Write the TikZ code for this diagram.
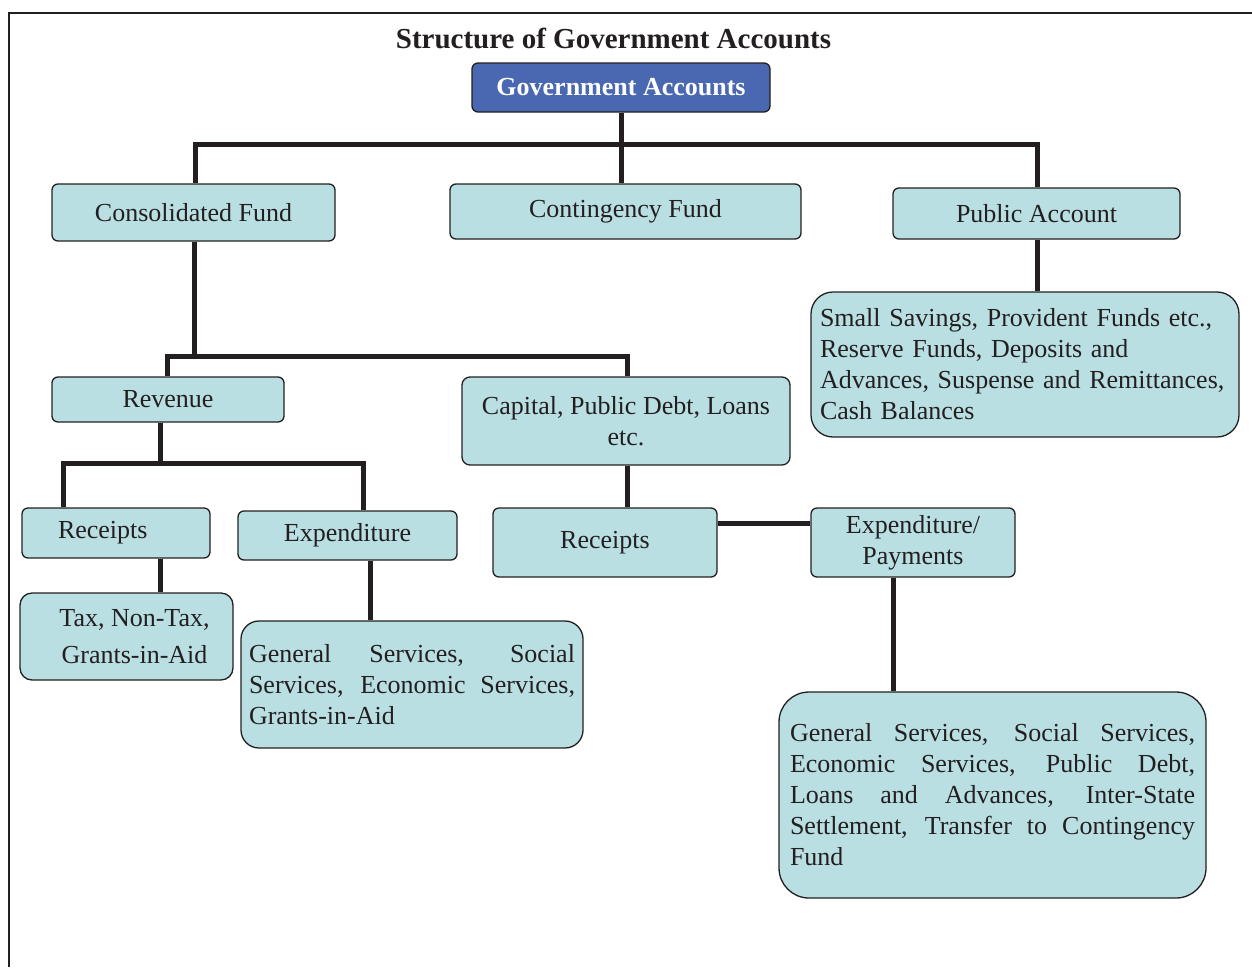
\documentclass[tikz,border=0pt]{standalone}
\usepackage{fontspec}
\setmainfont{Liberation Serif}
\definecolor{boxfill}{HTML}{B9DFE2}
\definecolor{govblue}{HTML}{4A67B1}
\definecolor{linec}{HTML}{231F20}
\begin{document}
\begin{tikzpicture}[x=1pt,y=-1pt,
  box/.style={draw=linec, line width=1.3pt, fill=boxfill, rounded corners=6pt, inner sep=0pt,
    font=\fontsize{26}{31}\selectfont, text=linec},
  conn/.style={draw=linec, line width=5pt, line join=miter},
  frame/.style={draw=linec, line width=1.8pt}]
\useasboundingbox (0,0) rectangle (1252,967);
\draw[frame] (9,967) -- (9,13) -- (1252,13);

\node[font=\bfseries\fontsize{29}{34}\selectfont, text=linec] (title) at (613.5,38) {Structure of Government Accounts};

\node[box, fill=govblue, text=white, font=\bfseries\fontsize{26}{31}\selectfont, minimum width=298pt, minimum height=49pt] (gov) at (621,87.5) {Government Accounts};

\node[box, minimum width=283pt, minimum height=57pt] (cons) at (193.5,212.5) {Consolidated Fund};
\node[box, minimum width=351pt, minimum height=55pt] (cont) at (625.5,211.5) {Contingency Fund};
\node[box, minimum width=287pt, minimum height=51pt] (pub) at (1036.5,213.5) {Public Account};

\node[box, rounded corners=22pt, minimum width=428pt, minimum height=145pt, text width=410pt, align=left] (small) at (1025,364.5)
  {Small Savings, Provident Funds etc.,\\ Reserve Funds, Deposits and\\ Advances, Suspense and Remittances,\\ Cash Balances};

\node[box, minimum width=232pt, minimum height=45pt] (rev) at (168,399.5) {Revenue};
\node[box, rounded corners=8pt, minimum width=328pt, minimum height=88pt, align=center] (cap) at (626,421) {Capital, Public Debt, Loans\\ etc.};

\node[box, minimum width=188pt, minimum height=50pt, text width=116pt, align=left] (rec1) at (116,533) {Receipts};
\node[box, minimum width=219pt, minimum height=49pt] (exp1) at (347.5,535.5) {Expenditure};
\node[box, minimum width=224pt, minimum height=69pt] (rec2) at (605,542.5) {Receipts};
\node[box, minimum width=204pt, minimum height=69pt, align=center] (exppay) at (913,542.5) {Expenditure/\\ Payments};

\node[box, rounded corners=12pt, minimum width=213pt, minimum height=87pt, align=center] (tax) at (126.5,636.5) {\hspace*{16pt}Tax, Non-Tax,\\[6pt]\hspace*{16pt}Grants-in-Aid};
\node[box, rounded corners=18pt, minimum width=342pt, minimum height=127pt, text width=326pt, align=justify] (gen1) at (412,684.5)
  {General Services, Social\linebreak Services, Economic Services,\linebreak Grants-in-Aid};
\node[box, rounded corners=30pt, minimum width=427pt, minimum height=206pt, text width=405pt, align=justify] (big) at (992.5,795)
  {General Services, Social Services,\linebreak Economic Services, Public Debt,\linebreak Loans and Advances, Inter-State\linebreak Settlement, Transfer to Contingency\linebreak Fund};

% connectors
\coordinate (j1) at (621,144);
\coordinate (j2) at (194,356);
\coordinate (j3) at (160,463);
\coordinate (h1) at (63,463);
\coordinate (h2) at (363,463);
\coordinate (v3) at (370,0);
\coordinate (v4) at (893,0);
\coordinate (hy) at (0,523);

\draw[conn] (gov.south) -- (j1);
\draw[conn] (cons.north -| 195,0) |- (j1) -| (pub.north -| 1037,0);
\draw[conn] (j1) -- (cont.north -| j1);
\draw[conn] (pub.south -| 1037,0) -- (small.north -| 1037,0);

\draw[conn] (cons.south -| j2) -- (j2);
\draw[conn] (rev.north -| 167,0) -- (j2 -| 167,0) -- (j2 -| 627,0) -- (cap.north -| 627,0);

\draw[conn] (rev.south -| j3) -- (j3);
\draw[conn] (rec1.north -| h1) -- (h1) -- (h2) -- (exp1.north -| h2);
\draw[conn] (rec1.south -| j3) -- (tax.north -| j3);
\draw[conn] (exp1.south -| v3) -- (gen1.north -| v3);

\draw[conn] (cap.south -| 627,0) -- (rec2.north -| 627,0);
\draw[conn] (rec2.east |- hy) -- (exppay.west |- hy);
\draw[conn] (exppay.south -| v4) -- (big.north -| v4);
\end{tikzpicture}
\end{document}
